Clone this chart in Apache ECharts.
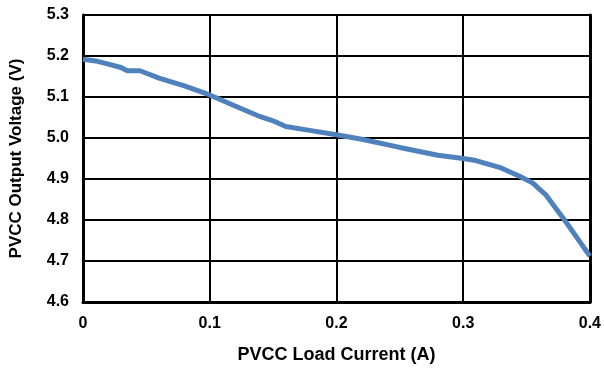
<!DOCTYPE html>
<html>
<head>
<meta charset="utf-8">
<script src="https://cdn.jsdelivr.net/npm/echarts@6/dist/echarts.min.js"></script>
<style>html,body{margin:0;padding:0;background:#fff}#c{width:604px;height:369px}</style>
</head>
<body>
<div id="c"></div>
<script>
const loadCurrent = [0, 0.01, 0.02, 0.03, 0.035, 0.045, 0.06, 0.08, 0.1, 0.12, 0.14, 0.15, 0.16, 0.18, 0.2, 0.22, 0.25, 0.28, 0.3, 0.31, 0.33, 0.345, 0.355, 0.365, 0.38, 0.4];
const outputVoltage = [5.192, 5.188, 5.180, 5.172, 5.164, 5.164, 5.146, 5.127, 5.105, 5.078, 5.052, 5.042, 5.028, 5.018, 5.008, 4.997, 4.977, 4.958, 4.950, 4.945, 4.927, 4.906, 4.890, 4.862, 4.800, 4.712];
const xTicks = [0, 0.1, 0.2, 0.3, 0.4];
const yTicks = [4.6, 4.7, 4.8, 4.9, 5.0, 5.1, 5.2, 5.3];
const xTitle = 'PVCC Load Current (A)';
const yTitle = 'PVCC Output Voltage (V)';

const chart = echarts.init(document.getElementById('c'));
const font = {fontFamily: 'Liberation Sans, Arial, sans-serif', fontWeight: 'bold', color: '#000'};
const yMin = yTicks[0], yMax = yTicks[yTicks.length - 1];
chart.setOption({
  animation: false,
  grid: {left: 83, right: 14, top: 15, bottom: 67},
  xAxis: {
    type: 'value', min: xTicks[0], max: xTicks[xTicks.length - 1], interval: 0.1,
    name: xTitle, nameLocation: 'middle', nameGap: 44,
    nameTextStyle: Object.assign({}, font, {fontSize: 18}),
    axisLine: {lineStyle: {color: '#000', width: 3}},
    axisTick: {show: false},
    axisLabel: Object.assign({}, font, {fontSize: 16, margin: 14, formatter: v => v === 0 ? '0' : v.toFixed(1)}),
    splitLine: {show: true, lineStyle: {color: '#000', width: 2}}
  },
  yAxis: [{
    type: 'value', min: yMin, max: yMax, interval: 0.1,
    name: yTitle, nameLocation: 'middle', nameGap: 58,
    nameTextStyle: Object.assign({}, font, {fontSize: 17}),
    axisLine: {show: true, lineStyle: {color: '#000', width: 3}},
    axisTick: {show: false},
    axisLabel: Object.assign({}, font, {fontSize: 16, margin: 14, formatter: v => v.toFixed(1)}),
    splitLine: {show: true, lineStyle: {color: '#000', width: 2}}
  }, {
    type: 'value', position: 'right', min: yMin, max: yMax, interval: 0.1,
    axisLine: {show: true, lineStyle: {color: '#000', width: 3}},
    axisTick: {show: false}, axisLabel: {show: false}, splitLine: {show: false}
  }],
  series: [{
    type: 'line',
    data: loadCurrent.map((x, i) => [x, outputVoltage[i]]),
    showSymbol: false,
    lineStyle: {color: '#4F81BD', width: 5},
    z: 5
  }]
});
</script>
</body>
</html>
